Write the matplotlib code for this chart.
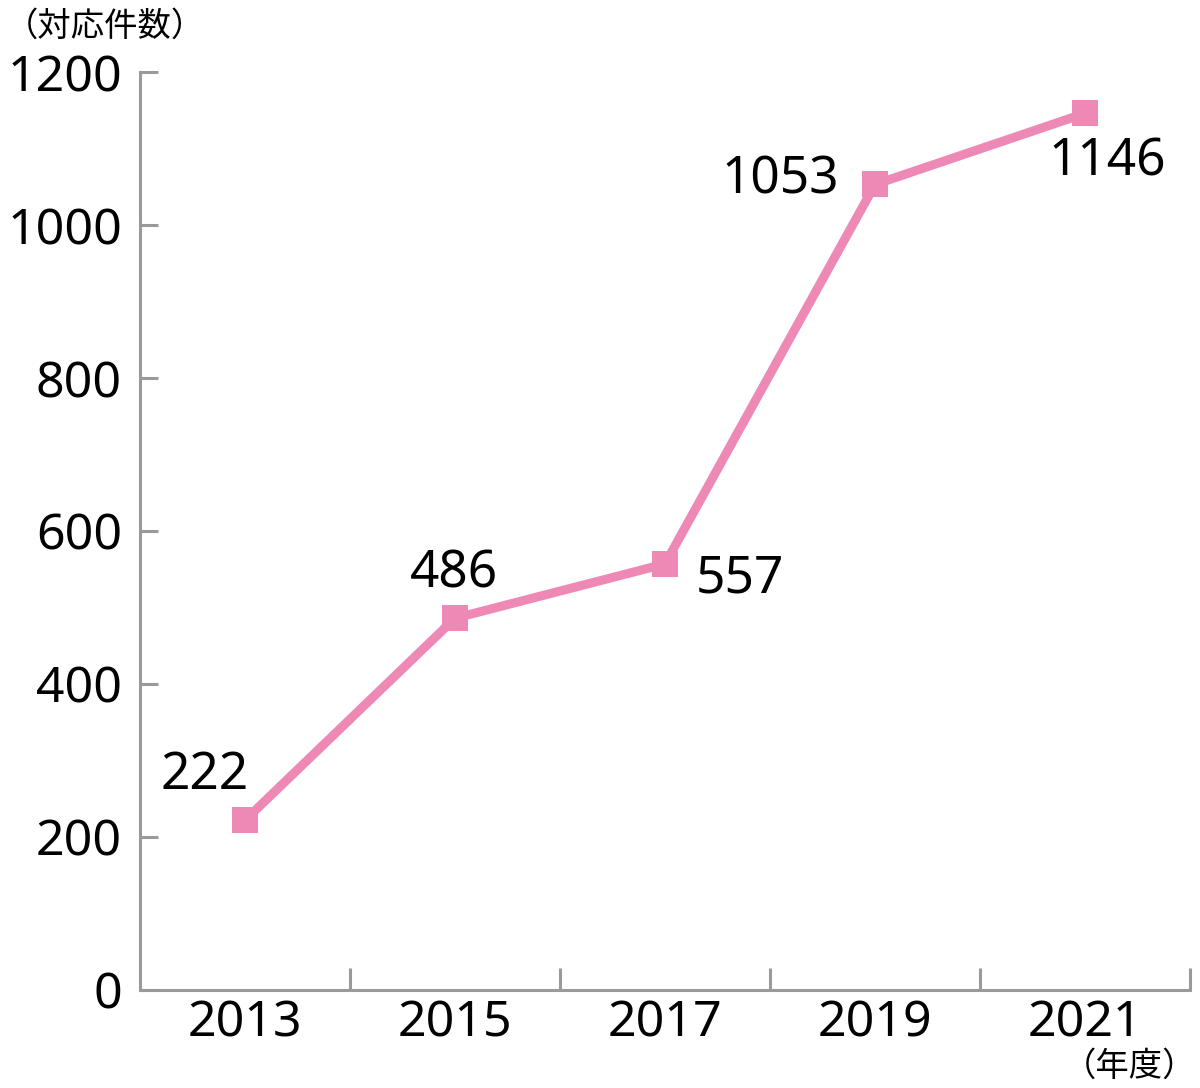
import matplotlib
matplotlib.use("Agg")
import matplotlib.pyplot as plt
from matplotlib.ticker import FixedLocator

plt.rcParams['font.family'] = ['Noto Sans', 'Noto Sans CJK JP', 'DejaVu Sans']

years = ["2013", "2015", "2017", "2019", "2021"]
counts = [222, 486, 557, 1053, 1146]
yticks = [0, 200, 400, 600, 800, 1000, 1200]
label_offsets = [(-29, 32), (-1, 32), (54, -11), (-68, 3), (16, -35)]

pink = "#ee88b5"
grey = "#9a9a9a"

fig = plt.figure(figsize=(12, 10.88), dpi=100)
ax = fig.add_axes([0.1167, 0.0901, 0.875, 0.8437])

x = list(range(len(years)))
ax.plot(x, counts, color=pink, lw=6.5, marker='s', markersize=19,
        markeredgewidth=0, solid_joinstyle='miter', zorder=3, clip_on=False)

for xi, v, off in zip(x, counts, label_offsets):
    ax.annotate(str(v), (xi, v), xytext=off, textcoords='offset points',
                ha='center', va='center', fontsize=37, color='black')

ax.set_xlim(-0.5, 4.5)
ax.set_ylim(0, 1200)
ax.set_yticks(yticks)
ax.set_yticklabels([str(t) for t in yticks])
ax.set_xticks(x)
ax.set_xticklabels(years)
ax.xaxis.set_minor_locator(FixedLocator([0.5, 1.5, 2.5, 3.5, 4.5]))

for s in ['top', 'right']:
    ax.spines[s].set_visible(False)
for s in ['left', 'bottom']:
    ax.spines[s].set_color(grey)
    ax.spines[s].set_linewidth(2.2)

ax.tick_params(axis='y', direction='in', length=13, width=2.2, color=grey,
               labelsize=36, pad=13)
ax.tick_params(axis='x', which='major', length=0, labelsize=36, pad=6)
ax.tick_params(axis='x', which='minor', direction='in', length=16, width=2.2,
               color=grey)

fig.text(0.004, 0.975, "（対応件数）", fontsize=24, ha='left', va='center')
fig.text(0.997, 0.019, "（年度）", fontsize=24, ha='right', va='center')

fig.savefig("out.png", dpi=100)
